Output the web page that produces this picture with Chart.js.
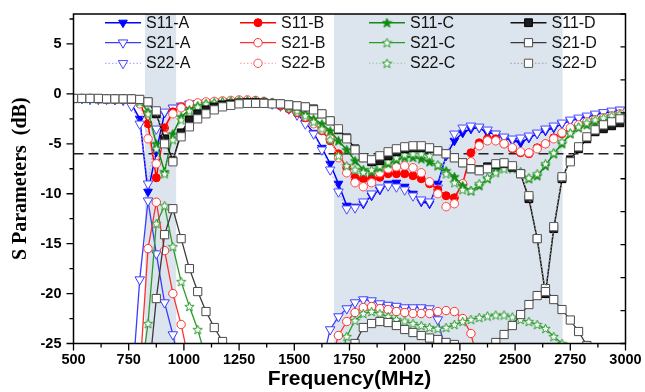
<!DOCTYPE html>
<html><head><meta charset="utf-8">
<script src="https://cdn.jsdelivr.net/npm/chart.js@4.4.1/dist/chart.umd.min.js"></script>
<style>html,body{margin:0;padding:0;background:#fff;}canvas{display:block;}</style>
</head><body>
<canvas id="c" width="645" height="392"></canvas>
<script>
// ---------- data (MHz / dB) ----------
const freq = [500, 537.5, 575, 612.5, 650, 687.5, 725, 762.5, 800, 837.5, 875, 912.5, 950, 987.5, 1025, 1062.5, 1100, 1137.5, 1175, 1212.5, 1250, 1287.5, 1325, 1362.5, 1400, 1437.5, 1475, 1512.5, 1550, 1587.5, 1625, 1662.5, 1700, 1737.5, 1775, 1812.5, 1850, 1887.5, 1925, 1962.5, 2000, 2037.5, 2075, 2112.5, 2150, 2187.5, 2225, 2262.5, 2300, 2337.5, 2375, 2412.5, 2450, 2487.5, 2525, 2562.5, 2600, 2637.5, 2675, 2712.5, 2750, 2787.5, 2825, 2862.5, 2900, 2937.5, 2975];

const s11A = [-0.5, -0.5, -0.55, -0.55, -0.55, -0.6, -0.65, -1.0,
  -2.5, -9.8, -5.8, -1.9, -1.4, -1.2, -1.0, -0.95, -0.9, -0.85, -0.8, -0.8,
  -0.75, -0.75, -0.8, -0.85, -0.95, -1.1, -1.4, -2.0, -2.9, -3.9,
  -5.4, -7.0, -9.0, -11.2, -11.3, -11.0, -10.2, -9.6, -9.0, -8.9,
  -9.3, -10.0, -10.8, -11.0, -9.0, -6.2, -4.7, -3.9, -3.5, -3.4,
  -3.9, -4.0, -4.4, -4.7, -4.9, -4.4, -4.0, -3.7, -3.4, -3.0,
  -2.7, -2.5, -2.3, -2.1, -1.9, -1.8, -1.6];
const s21A = [null, null, null, null, null, null, null, -30,
  -18.6, -10.7, -16.0, -20.9, -24.1, -28,
  null, null, null, null, null, null, null, null, null, null, null, null, null, null, null, null,
  -27, -23.6, -22.3, -21.5, -20.9, -20.6, -20.7, -21.0, -21.15, -21.25,
  -21.4, -21.4, -21.4, -21.5, -22.6, -26,
  null, null, null, null, null, null, null, null, null, null, null, null, null, null, null, null, null, null, null, null, null];
const s22A = [-0.45, -0.45, -0.5, -0.5, -0.5, -0.55, -0.6, -1.2,
  -3.0, -9.0, -3.5, -1.8, -1.4, -1.2, -1.0, -0.95, -0.9, -0.85, -0.8, -0.75,
  -0.75, -0.75, -0.8, -0.85, -1.0, -1.2, -1.5, -2.1, -3.0, -4.0,
  -5.6, -7.6, -9.8, -11.5, -11.4, -10.8, -10.0, -9.4, -9.2, -9.3,
  -9.6, -10.2, -10.6, -10.8, -9.4, -6.0, -4.0, -3.4, -3.2, -3.3,
  -3.6, -4.0, -4.3, -4.5, -4.4, -4.2, -3.9, -3.5, -3.2, -2.9,
  -2.6, -2.4, -2.2, -2.0, -1.85, -1.7, -1.6];

const s11B = [-0.45, -0.45, -0.45, -0.5, -0.5, -0.5, -0.5, -0.55,
  -0.8, -3.0, -8.4, -3.4, -1.8, -1.3, -1.1, -0.95, -0.85, -0.8, -0.75, -0.7,
  -0.65, -0.65, -0.7, -0.8, -0.95, -1.2, -1.5, -1.9, -2.4, -2.9,
  -3.7, -4.7, -6.0, -7.4, -8.4, -8.5, -8.5, -8.35, -8.0, -8.0,
  -8.0, -8.2, -8.5, -9.0, -9.6, -10.2, -10.4, -9.0, -5.9, -4.9,
  -4.5, -4.5, -5.0, -5.5, -5.9, -6.0, -5.4, -5.0, -4.4, -4.0,
  -3.5, -3.2, -2.9, -2.7, -2.5, -2.3, -2.1];
const s21B = [null, null, null, null, null, null, null, null,
  -28, -15.5, -10.85, -15.7, -20.0, -23.1, -27,
  null, null, null, null, null, null, null, null, null, null, null, null, null, null, null, null,
  -27, -24.2, -22.8, -21.9, -21.4, -21.3, -21.5, -21.6, -21.8, -21.9,
  -22.0, -22.0, -22.0, -21.8, -21.7, -21.8, -22.5, -24.0, -27.5,
  null, null, null, null, null, null, null, null, null, null, null, null, null, null, null, null, null];
const s22B = [-0.45, -0.45, -0.45, -0.5, -0.5, -0.5, -0.5, -0.55,
  -1.0, -4.5, -7.0, -4.2, -2.0, -1.4, -1.0, -0.9, -0.8, -0.75, -0.7, -0.65,
  -0.6, -0.6, -0.65, -0.75, -0.9, -1.1, -1.4, -1.8, -2.3, -3.0,
  -3.6, -4.5, -6.4, -7.9, -8.9, -9.3, -8.9, -7.9, -7.5, -7.3,
  -7.2, -7.4, -7.9, -8.8, -10.0, -11.3, -11.0, -9.0, -6.8, -5.2,
  -4.7, -4.7, -5.0, -5.4, -5.8, -5.9, -5.5, -5.0, -4.5, -3.9,
  -3.4, -3.1, -2.8, -2.6, -2.4, -2.2, -2.0];

const s11C = [-0.45, -0.45, -0.45, -0.5, -0.5, -0.5, -0.5, -0.5,
  -0.7, -1.8, -5.0, -7.8, -4.0, -2.3, -1.6, -1.2, -1.0, -0.9, -0.8, -0.75,
  -0.7, -0.7, -0.7, -0.75, -0.85, -1.0, -1.3, -1.6, -2.0, -2.5,
  -3.0, -3.7, -4.7, -5.6, -6.7, -7.6, -7.8, -7.4, -7.0, -6.6,
  -6.35, -6.35, -6.5, -6.8, -7.2, -7.7, -8.3, -9.2, -9.7, -9.2,
  -8.5, -7.7, -7.2, -7.35, -7.85, -8.5, -8.2, -7.2, -6.0, -5.0,
  -4.0, -3.4, -3.1, -2.9, -2.7, -2.5, -2.2];
const s21C = [null, null, null, null, null, null, null, null,
  -29, -23.0, -13.0, -11.2, -15.3, -18.8, -21.3, -23.6, -26.5,
  null, null, null, null, null, null, null, null, null, null, null, null, null, null, null,
  -27.5, -24.3, -22.7, -22.0, -21.8, -22.0, -22.3, -22.6, -22.75, -23.0,
  -23.2, -23.4, -23.5, -23.4, -23.1, -22.8, -22.6, -22.4, -22.25, -22.15,
  -22.15, -22.35, -22.6, -22.8, -23.1, -23.5, -24.3, -25.0, -27,
  null, null, null, null, null, null];
const s22C = [-0.45, -0.45, -0.45, -0.5, -0.5, -0.5, -0.5, -0.5,
  -0.8, -2.0, -5.5, -8.0, -4.6, -2.6, -1.7, -1.3, -1.0, -0.9, -0.8, -0.75,
  -0.7, -0.7, -0.7, -0.75, -0.85, -1.0, -1.3, -1.7, -2.2, -2.8,
  -3.5, -4.6, -6.2, -7.2, -7.6, -7.85, -7.6, -7.2, -6.8, -6.4,
  -6.1, -6.0, -6.0, -6.2, -7.1, -8.0, -8.9, -9.6, -9.7, -9.0,
  -8.4, -7.9, -7.5, -7.5, -7.8, -8.4, -8.0, -7.0, -5.9, -4.8,
  -3.9, -3.3, -2.9, -2.6, -2.4, -2.2, -2.0];

const s11D = [-0.45, -0.45, -0.45, -0.45, -0.5, -0.5, -0.5, -0.5,
  -0.55, -0.8, -2.0, -4.5, -6.7, -3.9, -2.6, -2.0, -1.6, -1.3, -1.1, -1.0,
  -0.9, -0.85, -0.85, -0.9, -0.95, -1.0, -1.1, -1.2, -1.3, -1.5,
  -2.0, -2.7, -3.6, -4.4, -5.5, -6.4, -6.8, -6.7, -6.2, -5.8,
  -5.5, -5.4, -5.4, -5.5, -5.7, -6.0, -6.4, -6.9, -7.5, -7.6,
  -7.3, -7.1, -7.0, -7.35, -8.0, -10.5, -14.5, -20.0, -13.5, -8.5,
  -6.6, -5.5, -4.5, -3.8, -3.5, -3.2, -2.9];
const s21D = [null, null, null, null, null, null, null, null, null,
  -29, -20.5, -14.1, -11.5, -14.5, -17.5, -19.8, -21.8, -23.4, -24.8, -27,
  null, null, null, null, null, null, null, null, null, null, null, null, null,
  -28, -25.0, -23.4, -23.0, -22.8, -22.9, -23.2, -23.6, -23.9, -24.2,
  -24.45, -24.6, -24.9, -25.1, -26, -27, -27, -26, -24.9, -24.1,
  -23.2, -22.1, -21.1, -20.2, -19.5, -20.6, -21.6, -22.65, -23.8, -25.2, -27,
  null, null, null];
const s22D = [-0.45, -0.45, -0.45, -0.45, -0.5, -0.5, -0.5, -0.5,
  -0.55, -0.8, -1.7, -5.0, -6.8, -4.3, -3.3, -2.5, -2.0, -1.6, -1.3, -1.15,
  -1.0, -0.95, -0.95, -0.95, -1.0, -1.0, -1.1, -1.2, -1.3, -1.6,
  -2.0, -2.7, -3.5, -4.5, -5.6, -6.4, -6.6, -6.2, -5.8, -5.5,
  -5.3, -5.2, -5.2, -5.4, -5.7, -6.0, -6.4, -6.9, -7.5, -7.7,
  -7.5, -7.0, -6.9, -7.2, -8.0, -10.2, -14.5, -19.8, -13.3, -8.3,
  -6.8, -5.3, -4.3, -3.6, -3.1, -2.8, -2.5];

const bandEdges = [[824, 965], [1680, 2715]];   // shaded operating bands (MHz)
const thresholdFreq = [500, 3000];
const thresholdDb = -6;

// ---------- styling helpers ----------
function makeStar(size, fill, stroke) {
  const c = document.createElement('canvas');
  c.width = size; c.height = size;
  const g = c.getContext('2d');
  const cx = size / 2, cy = size / 2 + 0.4, R = size / 2 - 0.6, r = R * 0.42;
  g.beginPath();
  for (let k = 0; k < 10; k++) {
    const ang = -Math.PI / 2 + k * Math.PI / 5;
    const rad = k % 2 === 0 ? R : r;
    g.lineTo(cx + rad * Math.cos(ang), cy + rad * Math.sin(ang));
  }
  g.closePath();
  g.fillStyle = fill; g.fill();
  g.lineWidth = 1; g.strokeStyle = stroke; g.stroke();
  return c;
}
const GREEN = '#128a12';
const starFilled = makeStar(11, GREEN, GREEN);
const starHollow = makeStar(11, '#ffffff', '#2a9a2a');

function series(label, values, st, order, col, row) {
  return Object.assign({
    label: label,
    data: freq.map((f, i) => ({ x: f, y: values[i] })),
    borderWidth: 1.3,
    pointBorderWidth: 1,
    tension: 0,
    spanGaps: false,
    order: order,
    legendCol: col,
    legendRow: row
  }, st);
}

const datasets = [
  series('S11-A', s11A, { borderColor: '#0000ff', pointStyle: 'triangle', pointRotation: 180, pointRadius: 5, pointBackgroundColor: '#0000ff', pointBorderColor: '#0000ff', borderWidth: 1.5 }, 12, 0, 0),
  series('S21-A', s21A, { borderColor: '#3c3cff', pointStyle: 'triangle', pointRotation: 180, pointRadius: 5.5, pointBackgroundColor: '#ffffff', pointBorderColor: '#3c3cff' }, 11, 0, 1),
  series('S22-A', s22A, { borderColor: '#9a9aff', borderDash: [1.5, 2], borderWidth: 1, pointStyle: 'triangle', pointRotation: 180, pointRadius: 5.5, pointBackgroundColor: '#ffffff', pointBorderColor: '#4a4aff' }, 10, 0, 2),
  series('S11-B', s11B, { borderColor: '#ff0000', pointStyle: 'circle', pointRadius: 4, pointBackgroundColor: '#ff0000', pointBorderColor: '#ff0000', borderWidth: 1.5 }, 9, 1, 0),
  series('S21-B', s21B, { borderColor: '#ff3030', pointStyle: 'circle', pointRadius: 4.2, pointBackgroundColor: '#ffffff', pointBorderColor: '#ff3030' }, 8, 1, 1),
  series('S22-B', s22B, { borderColor: '#ff9a9a', borderDash: [1.5, 2], borderWidth: 1, pointStyle: 'circle', pointRadius: 4.2, pointBackgroundColor: '#ffffff', pointBorderColor: '#ff4a4a' }, 7, 1, 2),
  series('S11-C', s11C, { borderColor: GREEN, pointStyle: starFilled, pointRadius: 5, pointBackgroundColor: GREEN, pointBorderColor: GREEN, borderWidth: 1.5 }, 6, 2, 0),
  series('S21-C', s21C, { borderColor: '#2a9a2a', pointStyle: starHollow, pointRadius: 5, pointBackgroundColor: '#ffffff', pointBorderColor: '#2a9a2a' }, 5, 2, 1),
  series('S22-C', s22C, { borderColor: '#9ccc9c', borderDash: [1.5, 2], borderWidth: 1, pointStyle: starHollow, pointRadius: 5, pointBackgroundColor: '#ffffff', pointBorderColor: '#2a9a2a' }, 4, 2, 2),
  series('S11-D', s11D, { borderColor: '#111111', pointStyle: 'rect', pointRadius: 5.5, pointBackgroundColor: '#1c1c1c', pointBorderColor: '#000000', borderWidth: 1.5 }, 3, 3, 0),
  series('S21-D', s21D, { borderColor: '#3a3a3a', pointStyle: 'rect', pointRadius: 5.8, pointBackgroundColor: '#ffffff', pointBorderColor: '#4a4a4a' }, 2, 3, 1),
  series('S22-D', s22D, { borderColor: '#a0a0a0', borderDash: [1.5, 2], borderWidth: 1, pointStyle: 'rect', pointRadius: 5.8, pointBackgroundColor: '#ffffff', pointBorderColor: '#555555' }, 1, 3, 2),
  {
    label: 'threshold',
    data: thresholdFreq.map(f => ({ x: f, y: thresholdDb })),
    borderColor: '#222222', borderWidth: 1.5, borderDash: [10, 5],
    pointRadius: 0, order: 100
  }
];

// ---------- plugins ----------
const bandPlugin = {
  id: 'bands',
  beforeDatasetsDraw(chart) {
    const { ctx, chartArea: a, scales: { x } } = chart;
    ctx.save();
    ctx.fillStyle = 'rgb(220,228,238)';
    bandEdges.forEach(b => {
      const x0 = x.getPixelForValue(b[0]), x1 = x.getPixelForValue(b[1]);
      ctx.fillRect(x0, a.top, x1 - x0, a.bottom - a.top);
    });
    ctx.restore();
  }
};

const frameTicks = {
  id: 'frameTicks',
  afterDatasetsDraw(chart) {
    const { ctx, chartArea: a, scales: { x, y } } = chart;
    ctx.save();
    ctx.strokeStyle = '#000';
    ctx.lineWidth = 1.5;
    ctx.strokeRect(a.left, a.top, a.right - a.left, a.bottom - a.top);
    ctx.lineWidth = 1.3;
    ctx.beginPath();
    for (let v = x.min; v <= x.max + 0.01; v += 125) {
      const px = x.getPixelForValue(v);
      const len = ((v - x.min) % 250 === 0) ? 7 : 4;
      ctx.moveTo(px, a.bottom); ctx.lineTo(px, a.bottom + len);
    }
    for (let v = y.min; v <= y.max; v += 2.5) {
      const py = y.getPixelForValue(v);
      const len = ((v - y.min) % 5 === 0) ? 7 : 4;
      ctx.moveTo(a.left, py); ctx.lineTo(a.left - len, py);
    }
    for (let k = 0; k <= 10; k++) {
      const py = y.getPixelForValue(y.min + (y.max - y.min) * k / 10);
      ctx.moveTo(a.right, py); ctx.lineTo(a.right - 5, py);
    }
    ctx.stroke();
    ctx.restore();
  }
};

const columnLegend = {
  id: 'columnLegend',
  afterDraw(chart) {
    const { ctx, chartArea: a } = chart;
    const colX = [31.5, 166.5, 295.5, 437];
    const rowY = [8.7, 28.7, 49.3];
    chart.data.datasets.forEach(ds => {
      if (ds.legendCol === undefined) return;
      const x0 = a.left + colX[ds.legendCol];
      const yy = a.top + rowY[ds.legendRow];
      ctx.save();
      ctx.strokeStyle = ds.borderColor;
      ctx.lineWidth = ds.borderWidth;
      ctx.setLineDash(ds.borderDash || []);
      ctx.beginPath(); ctx.moveTo(x0, yy); ctx.lineTo(x0 + 36, yy); ctx.stroke();
      ctx.setLineDash([]);
      ctx.fillStyle = ds.pointBackgroundColor;
      ctx.strokeStyle = ds.pointBorderColor;
      ctx.lineWidth = ds.pointBorderWidth;
      Chart.helpers.drawPoint(ctx, { pointStyle: ds.pointStyle, rotation: ds.pointRotation || 0, radius: ds.pointRadius, borderWidth: ds.pointBorderWidth }, x0 + 18, yy);
      ctx.fillStyle = '#111';
      ctx.font = '16px "Liberation Sans", Arial, sans-serif';
      ctx.textBaseline = 'middle';
      ctx.textAlign = 'left';
      ctx.fillText(ds.label, x0 + 41, yy + 0.5);
      ctx.restore();
    });
  }
};

const tickFont = { family: '"Liberation Sans", Arial, sans-serif', weight: 'bold', size: 14.5 };

new Chart(document.getElementById('c'), {
  type: 'line',
  data: { datasets: datasets },
  options: {
    responsive: false,
    animation: false,
    layout: { autoPadding: false, padding: { left: 0, right: 19.5, top: 14, bottom: 0 } },
    plugins: { legend: { display: false }, tooltip: { enabled: false } },
    scales: {
      x: {
        type: 'linear', min: 500, max: 3000,
        ticks: { stepSize: 250, font: tickFont, color: '#000', padding: 8, maxRotation: 0, autoSkip: false,
          callback: v => String(v) },
        grid: { display: false, drawTicks: false },
        border: { display: false },
        title: { display: true, text: 'Frequency(MHz)', color: '#000', padding: { top: 0, bottom: 0 },
          font: { family: '"Liberation Sans", Arial, sans-serif', weight: 'bold', size: 21 } },
        afterFit: s => { s.height = 48.5; s.paddingLeft = 0; s.paddingRight = 0; }
      },
      y: {
        type: 'linear', min: -25, max: 8,
        ticks: { stepSize: 5, includeBounds: false, font: tickFont, color: '#000', padding: 12,
          callback: v => String(v) },
        grid: { display: false, drawTicks: false },
        border: { display: false },
        title: { display: true, text: 'S Parameters  (dB)', color: '#000', padding: { top: 9, bottom: 0 },
          font: { family: '"Liberation Serif", "Times New Roman", serif', weight: 'bold', size: 20 } },
        afterFit: s => { s.width = 73.5; s.paddingTop = 0; s.paddingBottom = 0; }
      }
    }
  },
  plugins: [bandPlugin, frameTicks, columnLegend]
});
</script>
</body></html>
